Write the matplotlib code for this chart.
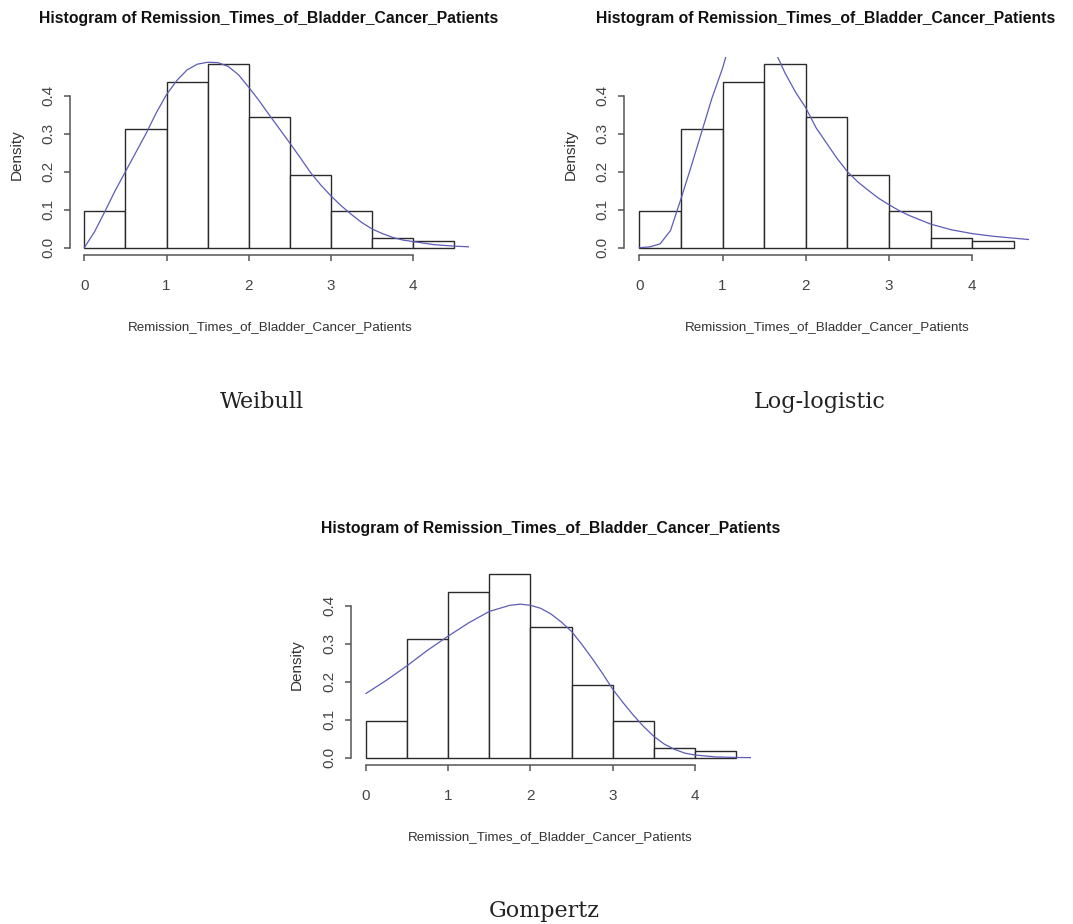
import numpy as np
import matplotlib
matplotlib.use("Agg")
import matplotlib.pyplot as plt

# ---- data ----
bin_edges = [0.0, 0.5, 1.0, 1.5, 2.0, 2.5, 3.0, 3.5, 4.0, 4.5]
densities = [0.097, 0.312, 0.437, 0.483, 0.345, 0.190, 0.097, 0.025, 0.017]

weibull_x = [0.0, 0.125, 0.25, 0.375, 0.5, 0.625, 0.75, 0.875, 1.0, 1.125,
             1.25, 1.375, 1.5, 1.625, 1.75, 1.875, 2.0, 2.125, 2.25, 2.375,
             2.5, 2.625, 2.75, 2.875, 3.0, 3.125, 3.25, 3.375, 3.5, 3.625,
             3.75, 3.875, 4.0, 4.25, 4.5, 4.7]
weibull_y = [0.0, 0.042, 0.095, 0.150, 0.200, 0.250, 0.300, 0.355, 0.403,
             0.440, 0.468, 0.483, 0.488, 0.487, 0.477, 0.455, 0.422, 0.387,
             0.349, 0.312, 0.275, 0.237, 0.198, 0.165, 0.136, 0.110, 0.087,
             0.066, 0.049, 0.037, 0.027, 0.020, 0.016, 0.008, 0.004, 0.002]

gompertz_x = [0.0, 0.25, 0.5, 0.75, 1.0, 1.25, 1.5, 1.75, 1.875, 2.0, 2.125,
              2.25, 2.375, 2.5, 2.625, 2.75, 2.875, 3.0, 3.125, 3.25, 3.375,
              3.5, 3.625, 3.75, 3.875, 4.0, 4.25, 4.5, 4.7]
gompertz_y = [0.169, 0.204, 0.242, 0.283, 0.320, 0.355, 0.385, 0.401, 0.404,
              0.401, 0.393, 0.378, 0.357, 0.332, 0.298, 0.261, 0.222, 0.180,
              0.145, 0.112, 0.082, 0.056, 0.036, 0.022, 0.012, 0.007, 0.002,
              0.0005, 0.0]

# log-logistic: rising branch and falling branch (peak clipped by the plot region)
loglog_x1 = [0.0, 0.125, 0.25, 0.375, 0.5, 0.625, 0.75, 0.875, 1.0, 1.04]
loglog_y1 = [0.0, 0.002, 0.010, 0.045, 0.128, 0.215, 0.305, 0.395, 0.472, 0.503]
loglog_x2 = [1.66, 1.75, 1.875, 2.0, 2.125, 2.25, 2.375, 2.5, 2.625, 2.75,
             2.875, 3.0, 3.125, 3.25, 3.5, 3.75, 4.0, 4.25, 4.5, 4.7]
loglog_y2 = [0.503, 0.460, 0.410, 0.368, 0.315, 0.275, 0.235, 0.200, 0.173,
             0.151, 0.130, 0.113, 0.097, 0.084, 0.062, 0.047, 0.037, 0.030,
             0.025, 0.021]

xticks = [0, 1, 2, 3, 4]
yticks = [0.0, 0.1, 0.2, 0.3, 0.4]
title = "Histogram of Remission_Times_of_Bladder_Cancer_Patients"
xlabel = "Remission_Times_of_Bladder_Cancer_Patients"
ylabel = "Density"
captions = ["Weibull", "Log-logistic", "Gompertz"]

W, H = 1073, 924
fig = plt.figure(figsize=(W / 100, H / 100), dpi=100)
fig.patch.set_facecolor("white")

SANS = ["Liberation Sans", "DejaVu Sans"]
SERIF = ["DejaVu Serif", "Liberation Serif"]
CURVE = "#5c5cb8"


def add_panel(left, right, top, bottom):
    return fig.add_axes([left / W, 1 - bottom / H, (right - left) / W, (bottom - top) / H])


def style(ax):
    lefts = bin_edges[:-1]
    widths = np.diff(bin_edges)
    ax.bar(lefts, densities, width=widths, align="edge", facecolor="white",
           edgecolor="#2a2a2a", linewidth=1.0, zorder=1)
    ax.set_xlim(-0.18, 4.68)
    ax.set_ylim(-0.0193, 0.5026)
    for s in ["top", "right"]:
        ax.spines[s].set_visible(False)
    ax.spines["left"].set_bounds(0, 0.4)
    ax.spines["bottom"].set_bounds(0, 4)
    for s in ["left", "bottom"]:
        ax.spines[s].set_color("#555555")
        ax.spines[s].set_linewidth(1.1)
    ax.set_xticks(xticks)
    ax.set_yticks(yticks)
    ax.set_xticklabels([str(t) for t in xticks], family=SANS, fontsize=11, color="#444444")
    ax.set_yticklabels(["%.1f" % t for t in yticks], family=SANS, fontsize=11,
                       color="#444444", rotation=90, va="center")
    ax.tick_params(axis="both", direction="out", length=4.5, width=1.1, color="#555555")
    ax.tick_params(axis="x", pad=12.5)
    ax.tick_params(axis="y", pad=6)
    ax.patch.set_alpha(0)


# panel geometry (pixels: left, right, top, bottom of plot region)
panels = [
    (69.5, 469.2, 56.7, 255.0),
    (624.3, 1028.9, 56.7, 255.0),
    (351.2, 750.9, 566.7, 765.0),
]

axes = [add_panel(*p) for p in panels]
for ax in axes:
    style(ax)

axes[0].plot(weibull_x, weibull_y, color=CURVE, lw=0.9, zorder=3)
axes[1].plot(loglog_x1, loglog_y1, color=CURVE, lw=0.9, zorder=3)
axes[1].plot(loglog_x2, loglog_y2, color=CURVE, lw=0.9, zorder=3)
axes[2].plot(gompertz_x, gompertz_y, color=CURVE, lw=0.9, zorder=3)

# titles, axis labels, captions (positions in pixels)
title_pos = [(269, 18), (826, 18), (551, 528)]
xlabel_pos = [(270, 327), (827, 327), (550, 837)]
ylabel_pos = [(17, 155), (571, 155), (297, 665)]
caption_pos = [(262, 408), (820, 408), (544, 916.5)]

for (tx, ty) in title_pos:
    fig.text(tx / W, 1 - ty / H, title, ha="center", va="center", family=SANS,
             fontsize=11.3, fontweight="bold", color="#111111")
for (tx, ty) in xlabel_pos:
    fig.text(tx / W, 1 - ty / H, xlabel, ha="center", va="center", family=SANS,
             fontsize=9.6, color="#333333")
for (tx, ty) in ylabel_pos:
    fig.text(tx / W, 1 - ty / H, ylabel, ha="center", va="center", family=SANS,
             fontsize=11, color="#333333", rotation=90)
for (tx, ty), c in zip(caption_pos, captions):
    fig.text(tx / W, 1 - ty / H, c, ha="center", va="baseline",
             family=SERIF, fontsize=16, color="#222222")

fig.savefig("out.png", dpi=100, facecolor="white")
